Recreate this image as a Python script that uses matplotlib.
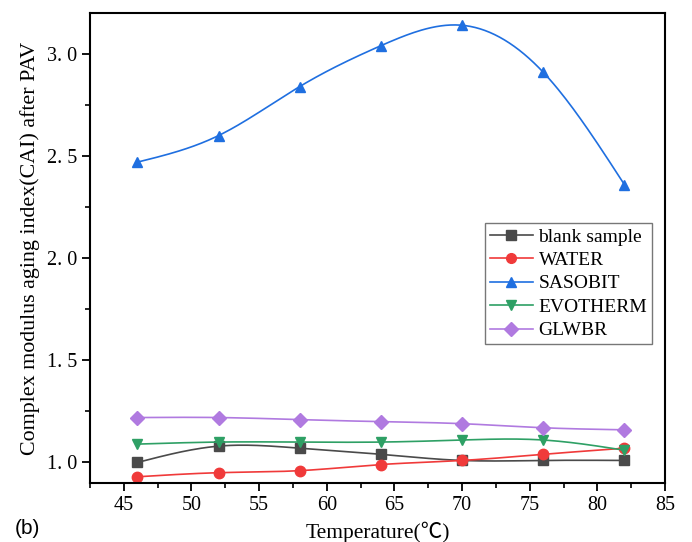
import numpy as np
import matplotlib
matplotlib.use('Agg')
import matplotlib.pyplot as plt
from matplotlib.ticker import MultipleLocator

# data
temps = [46, 52, 58, 64, 70, 76, 82]
blank = [1.00, 1.08, 1.07, 1.04, 1.01, 1.01, 1.01]
water = [0.93, 0.95, 0.96, 0.99, 1.01, 1.04, 1.07]
sasobit = [2.47, 2.60, 2.84, 3.04, 3.14, 2.91, 2.36]
evotherm = [1.09, 1.10, 1.10, 1.10, 1.11, 1.11, 1.06]
glwbr = [1.22, 1.22, 1.21, 1.20, 1.19, 1.17, 1.16]

names = ['blank sample', 'WATER', 'SASOBIT', 'EVOTHERM', 'GLWBR']
series = [blank, water, sasobit, evotherm, glwbr]
colors = ['#4a4a4a', '#f03a3a', '#1f6fe0', '#2ea065', '#b07ae0']
markers = ['s', 'o', '^', 'v', 'D']
ytick_vals = [1.0, 1.5, 2.0, 2.5, 3.0]
ytick_text = ['1. 0', '1. 5', '2. 0', '2. 5', '3. 0']


def spline(x, y, n=200):
    # natural cubic spline, just for the smooth connecting line
    x = np.asarray(x, float)
    y = np.asarray(y, float)
    k = len(x)
    h = np.diff(x)
    A = np.zeros((k, k))
    b = np.zeros(k)
    A[0, 0] = A[-1, -1] = 1
    for i in range(1, k - 1):
        A[i, i - 1] = h[i - 1]
        A[i, i] = 2 * (h[i - 1] + h[i])
        A[i, i + 1] = h[i]
        b[i] = 6 * ((y[i + 1] - y[i]) / h[i] - (y[i] - y[i - 1]) / h[i - 1])
    M = np.linalg.solve(A, b)
    xs = np.linspace(x[0], x[-1], n)
    idx = np.clip(np.searchsorted(x, xs) - 1, 0, k - 2)
    x0, x1 = x[idx], x[idx + 1]
    hh = x1 - x0
    ys = (M[idx] * (x1 - xs) ** 3 / (6 * hh) + M[idx + 1] * (xs - x0) ** 3 / (6 * hh)
          + (y[idx] / hh - M[idx] * hh / 6) * (x1 - xs)
          + (y[idx + 1] / hh - M[idx + 1] * hh / 6) * (xs - x0))
    return xs, ys


plt.rcParams['font.family'] = ['Liberation Serif', 'Noto Sans CJK SC', 'DejaVu Sans']

fig = plt.figure(figsize=(6.92, 5.42), dpi=100)
ax = fig.add_axes([0.130, 0.109, 0.831, 0.867])

for name, vals, c, m in zip(names, series, colors, markers):
    xs, ys = spline(temps, vals)
    ax.plot(xs, ys, color=c, lw=1.2)
    ax.plot(temps, vals, linestyle='none', marker=m, color=c, markersize=7.5)
    ax.plot([], [], color=c, lw=1.2, marker=m, markersize=7, label=name)

ax.set_xlim(42.5, 85)
ax.set_ylim(0.9, 3.2)
ax.xaxis.set_major_locator(MultipleLocator(5))
ax.xaxis.set_minor_locator(MultipleLocator(2.5))
ax.yaxis.set_minor_locator(MultipleLocator(0.25))
ax.set_yticks(ytick_vals)
ax.set_yticklabels(ytick_text)
ax.tick_params(which='major', direction='out', length=6, width=1.3, labelsize=14.5)
ax.tick_params(which='minor', direction='out', length=3.5, width=1.2)
for s in ax.spines.values():
    s.set_linewidth(1.5)

ax.set_xlabel('Temperature(\u2103)', fontsize=15.5, labelpad=5)
ax.set_ylabel('Complex modulus aging index(CAI) after PAV', fontsize=15.8, labelpad=5)

leg = ax.legend(loc='upper left', bbox_to_anchor=(0.687, 0.553), fontsize=14,
                frameon=True, fancybox=False, handlelength=2.2, handletextpad=0.3,
                borderpad=0.25, labelspacing=0.3, borderaxespad=0)
leg.get_frame().set_edgecolor('#555555')
leg.get_frame().set_linewidth(1.0)

fig.text(0.022, 0.024, '(b)', fontsize=15, family='Liberation Sans', va='center')

fig.savefig('out.png', dpi=100, facecolor='white')
